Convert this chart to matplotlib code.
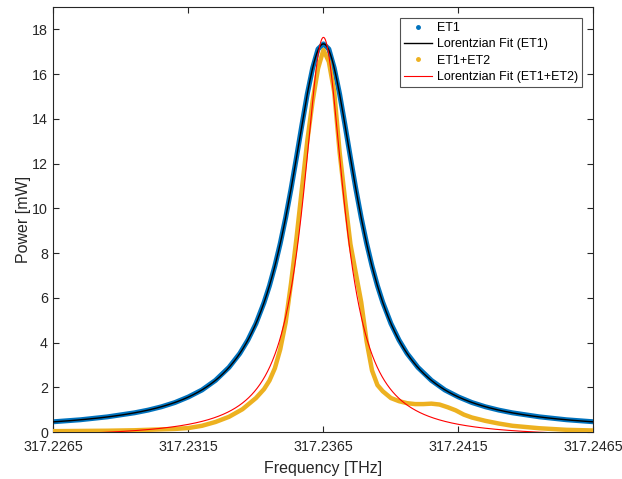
import numpy as np
import matplotlib
matplotlib.use("Agg")
import matplotlib.pyplot as plt
from matplotlib.lines import Line2D

# Resonance centre and axis ticks (THz)
f0_thz = 317.2365
xtick_thz = [317.2265, 317.2315, 317.2365, 317.2415, 317.2465]
xtick_labels = ["317.2265", "317.2315", "317.2365", "317.2415", "317.2465"]
ytick_mw = [0, 2, 4, 6, 8, 10, 12, 14, 16, 18]

# ET1 measurement: detuning from f0 (GHz) and power (mW)
et1_detuning_ghz = [-10.0, -9.0, -8.0, -7.0, -6.5, -6.0, -5.5, -5.0, -4.5, -4.0,
                    -3.5, -3.1, -2.8, -2.5, -2.2, -2.0, -1.8, -1.6, -1.4, -1.2,
                    -1.0, -0.8, -0.6, -0.4, -0.2, 0.0,
                    0.2, 0.4, 0.6, 0.8, 1.0, 1.2, 1.4, 1.6, 1.8, 2.0,
                    2.2, 2.5, 2.8, 3.1, 3.5, 4.0, 4.5, 5.0, 5.5, 6.0,
                    6.5, 7.0, 8.0, 9.0, 10.0]
et1_power_mw = [0.46, 0.55, 0.68, 0.86, 0.98, 1.13, 1.32, 1.57, 1.88, 2.31,
                2.89, 3.51, 4.11, 4.85, 5.79, 6.54, 7.42, 8.43, 9.58, 10.87,
                12.27, 13.71, 15.10, 16.27, 17.12, 17.35,
                17.12, 16.27, 15.10, 13.71, 12.27, 10.87, 9.58, 8.43, 7.42, 6.54,
                5.79, 4.85, 4.11, 3.51, 2.89, 2.31, 1.88, 1.57, 1.32, 1.13,
                0.98, 0.86, 0.68, 0.55, 0.46]

# ET1+ET2 measurement: detuning from f0 (GHz) and power (mW)
et12_detuning_ghz = [-10.0, -9.0, -8.0, -7.0, -6.0, -5.5, -5.0, -4.5, -4.0, -3.5,
                     -3.0, -2.5, -2.2, -2.0, -1.8, -1.6, -1.4, -1.2, -1.0, -0.8,
                     -0.6, -0.4, -0.2, 0.0,
                     0.2, 0.4, 0.6, 0.8, 1.0, 1.2, 1.4, 1.6, 1.8, 2.0,
                     2.2, 2.5, 2.8, 3.1, 3.4, 3.7, 4.0, 4.3, 4.6, 4.9,
                     5.2, 5.5, 6.0, 6.5, 7.0, 8.0, 9.0, 10.0]
et12_power_mw = [0.04, 0.05, 0.06, 0.08, 0.12, 0.14, 0.18, 0.28, 0.45, 0.68,
                 1.02, 1.52, 1.92, 2.30, 2.85, 3.70, 4.90, 6.65, 8.65, 10.85,
                 13.0, 14.8, 16.25, 17.08,
                 16.55, 15.2, 12.5, 10.4, 8.4, 7.1, 5.8, 4.05, 2.75, 2.1,
                 1.82, 1.52, 1.38, 1.29, 1.25, 1.25, 1.27, 1.23, 1.11, 0.97,
                 0.78, 0.65, 0.50, 0.38, 0.28, 0.17, 0.10, 0.07]

# Lorentzian fit parameters: amplitude (mW), HWHM (GHz), baseline (mW)
fit_et1 = dict(amp=17.30, hwhm=1.55, base=0.05)
fit_et12 = dict(amp=17.88, hwhm=0.92, base=-0.24)


def lorentzian(det_ghz, amp, hwhm, base):
    return amp / (1.0 + (det_ghz / hwhm) ** 2) + base


BLUE = "#0072BD"
YELLOW = "#EDB120"
AXC = "#262626"

plt.rcParams["font.family"] = ["Liberation Sans", "DejaVu Sans"]

fig = plt.figure(figsize=(6.22, 4.79), dpi=100)
ax = fig.add_axes([0.086, 0.098, 0.868, 0.8875])

f_et1 = f0_thz + np.array(et1_detuning_ghz) / 1000.0
f_et12 = f0_thz + np.array(et12_detuning_ghz) / 1000.0
det_fine = np.linspace(-10.0, 10.0, 2001)
f_fine = f0_thz + det_fine / 1000.0

ax.plot(f_et1, et1_power_mw, color=BLUE, lw=3.6, solid_capstyle="round", zorder=2)
ax.plot(f_fine, lorentzian(det_fine, **fit_et1), color="black", lw=1.0, zorder=3)
ax.plot(f_et12, et12_power_mw, color=YELLOW, lw=3.2, solid_capstyle="round", zorder=4)
ax.plot(f_fine, lorentzian(det_fine, **fit_et12), color="#FF0000", lw=0.8, zorder=5)

ax.set_xlim(317.2265, 317.2465)
ax.set_ylim(0, 19)
ax.set_xticks(xtick_thz)
ax.set_xticklabels(xtick_labels)
ax.set_yticks(ytick_mw)

for sp in ax.spines.values():
    sp.set_color(AXC)
    sp.set_linewidth(0.8)
ax.tick_params(direction="in", length=4, width=0.8, colors=AXC, labelsize=10.3,
               top=True, right=True)
ax.tick_params(axis="x", pad=5.5)
ax.tick_params(axis="y", pad=4)
ax.set_xlabel("Frequency [THz]", fontsize=11.5, color=AXC, labelpad=5)
ax.set_ylabel("Power [mW]", fontsize=11.5, color=AXC, labelpad=1)

handles = [
    Line2D([], [], ls="none", marker=".", markersize=5, color=BLUE),
    Line2D([], [], color="black", lw=1.0),
    Line2D([], [], ls="none", marker=".", markersize=5, color=YELLOW),
    Line2D([], [], color="#FF0000", lw=0.8),
]
labels = ["ET1", "Lorentzian Fit (ET1)", "ET1+ET2", "Lorentzian Fit (ET1+ET2)"]
leg = ax.legend(handles, labels, loc="upper right", fontsize=9, frameon=True,
                fancybox=False, edgecolor=AXC, borderaxespad=0.9,
                handlelength=2.3, handletextpad=0.4, labelspacing=0.35,
                borderpad=0.3)
leg.get_frame().set_linewidth(0.8)

fig.savefig("out.png", dpi=100, facecolor="white")
